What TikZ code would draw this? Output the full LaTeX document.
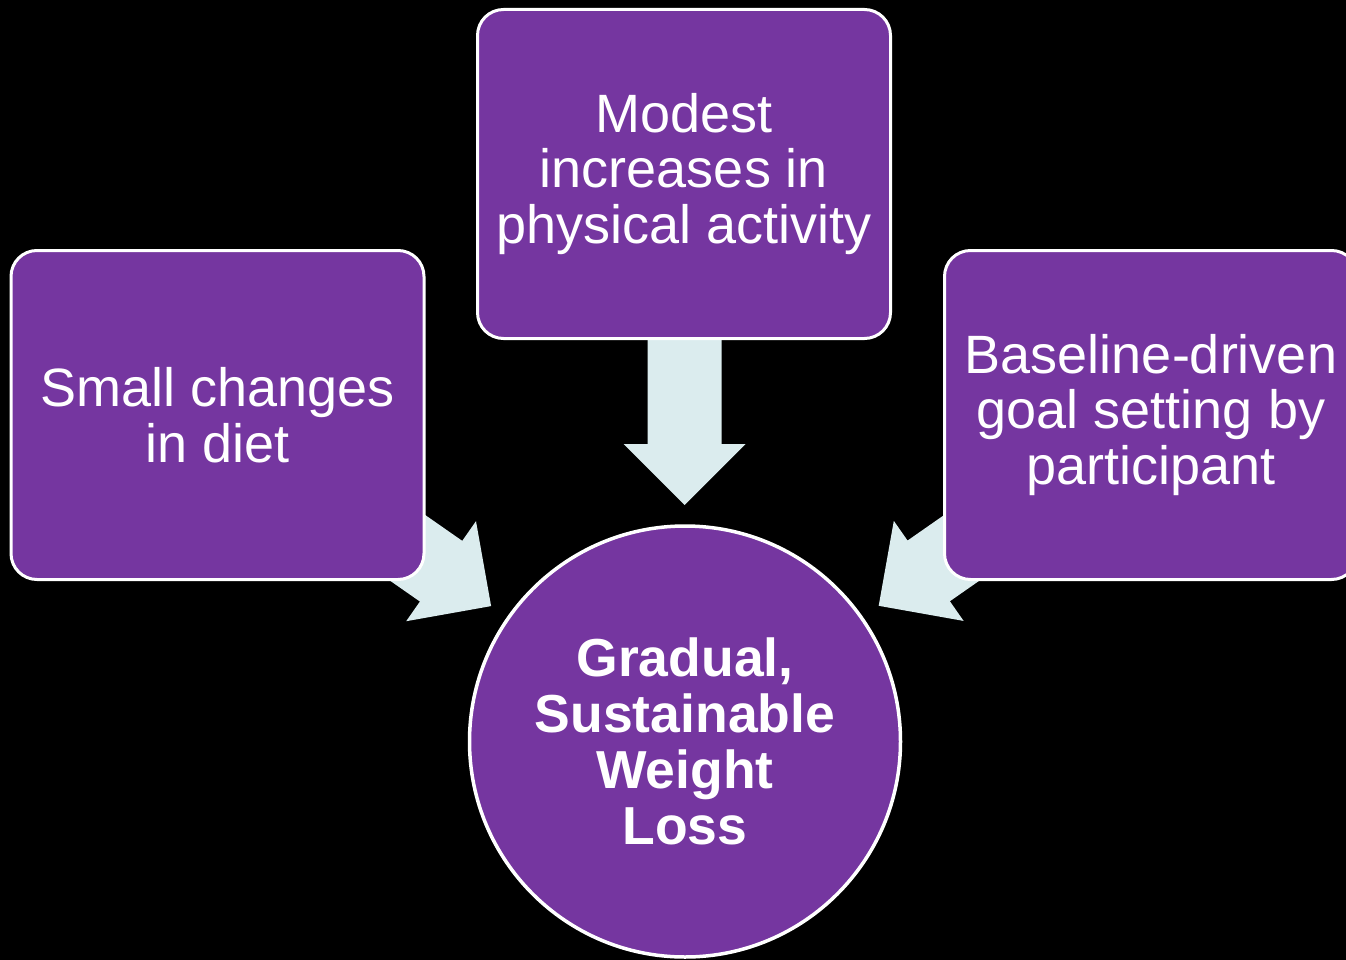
\documentclass[tikz,border=0pt]{standalone}
\usepackage{fontspec}
\setmainfont{Liberation Sans}
\usetikzlibrary{calc}
\pgfdeclarelayer{background}
\pgfsetlayers{background,main}
\definecolor{boxpurple}{RGB}{117,54,160}
\definecolor{arrowblue}{RGB}{219,236,238}
\begin{document}
\begin{tikzpicture}[x=1pt,y=-1pt,
  card/.style={draw=white, line width=3pt, fill=boxpurple, rounded corners=26pt,
    minimum width=413pt, minimum height=329pt, inner sep=0pt,
    text=white, align=center, font=\fontsize{54}{55.5}\selectfont},
  goalring/.style={circle, draw=white, line width=3.5pt, fill=boxpurple,
    minimum size=431pt, inner sep=0pt,
    text=white, align=center, font=\bfseries\fontsize{53.5}{56}\selectfont},
  blockarrow/.style={fill=arrowblue}]
\useasboundingbox (0,0) rectangle (1346,960);

% the three inputs and the outcome
\node[card] (activity) at (684,174) {Modest\\increases in\\physical activity};
\node[card] (diet) at (217.5,415) {Small changes\\in diet};
\node[card] (goals) at (1151,415) {Baseline-driven\\goal setting by\\participant};
\node[goalring] (goal) at (685,741.5) {Gradual,\\Sustainable\\Weight\\Loss};

% arrow tips sit just outside the circle, on the line to each box
\coordinate (tipA) at ($(goal.center)!236.5pt!(activity.center)$);
\coordinate (tipD) at ($(goal.center)!236.5pt!(diet.center)$);
\coordinate (tipG) at ($(goal.center)!236.5pt!(goals.center)$);

\begin{pgfonlayer}{background}
  \fill[black] (0,0) rectangle (1346,960);
  \foreach \tip/\ang in {tipA/-90, tipD/-34.9, tipG/-145.1} {
    \begin{scope}[shift={(\tip)}, rotate=\ang]
      \fill[blockarrow] (0,0) -- (-61,61) -- (-61,37) -- (-200,37)
        -- (-200,-37) -- (-61,-37) -- (-61,-61) -- cycle;
    \end{scope}
  }
\end{pgfonlayer}
\end{tikzpicture}
\end{document}
